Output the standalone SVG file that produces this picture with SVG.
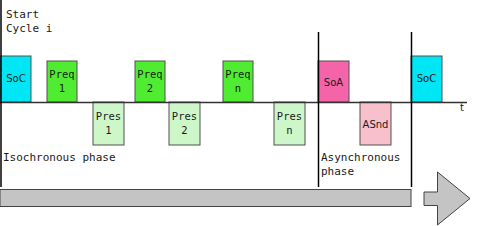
<svg xmlns="http://www.w3.org/2000/svg" width="477" height="226" viewBox="0 0 477 226">
<style>
.box{stroke:#505050;stroke-width:1}
.soc{fill:#00E6F5}
.preq{fill:#50EC32}
.pres{fill:#CDF7C8}
.soa{fill:#F564A8}
.asnd{fill:#F8C0CC}
.mono{font-family:"DejaVu Sans Mono",monospace;font-size:10.5px;fill:#1a1a1a}
.sans{font-family:"DejaVu Sans",sans-serif;font-size:10px;fill:#1a1a1a}
.lbl{font-family:"DejaVu Sans Mono",monospace;font-size:11px;fill:#1a1a1a}
.vl{stroke:#000;stroke-width:1.5}
</style>
<rect width="477" height="226" fill="#fff"/>
<g id="labels">
<text class="lbl" x="6" y="18">Start</text>
<text class="lbl" x="6" y="32">Cycle i</text>
<text class="lbl" x="3" y="161">Isochronous phase</text>
<text class="lbl" x="321" y="161">Asynchronous</text>
<text class="lbl" x="321" y="175">phase</text>
<text class="sans" x="460" y="111">t</text>
</g>
<g id="soc1"><rect class="box soc" x="0" y="56" width="31" height="46"/><text class="sans" x="16" y="82" text-anchor="middle">SoC</text></g>
<g id="preq1"><rect class="box preq" x="47" y="61" width="30" height="41"/><text class="mono" x="62" y="78" text-anchor="middle">Preq</text><text class="mono" x="62" y="92" text-anchor="middle">1</text></g>
<g id="pres1"><rect class="box pres" x="93" y="102" width="31" height="43"/><text class="mono" x="108.5" y="120" text-anchor="middle">Pres</text><text class="mono" x="108.5" y="134" text-anchor="middle">1</text></g>
<g id="preq2"><rect class="box preq" x="135" y="61" width="30" height="41"/><text class="mono" x="150" y="78" text-anchor="middle">Preq</text><text class="mono" x="150" y="92" text-anchor="middle">2</text></g>
<g id="pres2"><rect class="box pres" x="169" y="102" width="31" height="43"/><text class="mono" x="184.5" y="120" text-anchor="middle">Pres</text><text class="mono" x="184.5" y="134" text-anchor="middle">2</text></g>
<g id="preqn"><rect class="box preq" x="223" y="61" width="30" height="41"/><text class="mono" x="238" y="78" text-anchor="middle">Preq</text><text class="mono" x="238" y="92" text-anchor="middle">n</text></g>
<g id="presn"><rect class="box pres" x="274" y="102" width="31" height="43"/><text class="mono" x="289.5" y="120" text-anchor="middle">Pres</text><text class="mono" x="289.5" y="134" text-anchor="middle">n</text></g>
<g id="soa"><rect class="box soa" x="318" y="61" width="31" height="41"/><text class="sans" x="333.5" y="86" text-anchor="middle">SoA</text></g>
<g id="asnd"><rect class="box asnd" x="360" y="102" width="31" height="43"/><text class="sans" x="375.5" y="128" text-anchor="middle">ASnd</text></g>
<g id="soc2"><rect class="box soc" x="411" y="56" width="31" height="46"/><text class="sans" x="426.5" y="82" text-anchor="middle">SoC</text></g>
<g id="connectors">
<line x1="0" y1="102.5" x2="467" y2="102.5" stroke="#333" stroke-width="1.5"/>
<line class="vl" x1="1" y1="0" x2="1" y2="187"/>
<line class="vl" x1="318.5" y1="32" x2="318.5" y2="187"/>
<line class="vl" x1="411.5" y1="32" x2="411.5" y2="187"/>
</g>
<g id="timebar">
<rect x="0" y="189.5" width="411" height="17" fill="#C4C4C4" stroke="#444" stroke-width="1"/>
<polygon points="424,192 437.5,192 437.5,172 470,198.5 437.5,225 437.5,205.5 424,205.5" fill="#C4C4C4" stroke="#444" stroke-width="1"/>
</g>
</svg>
